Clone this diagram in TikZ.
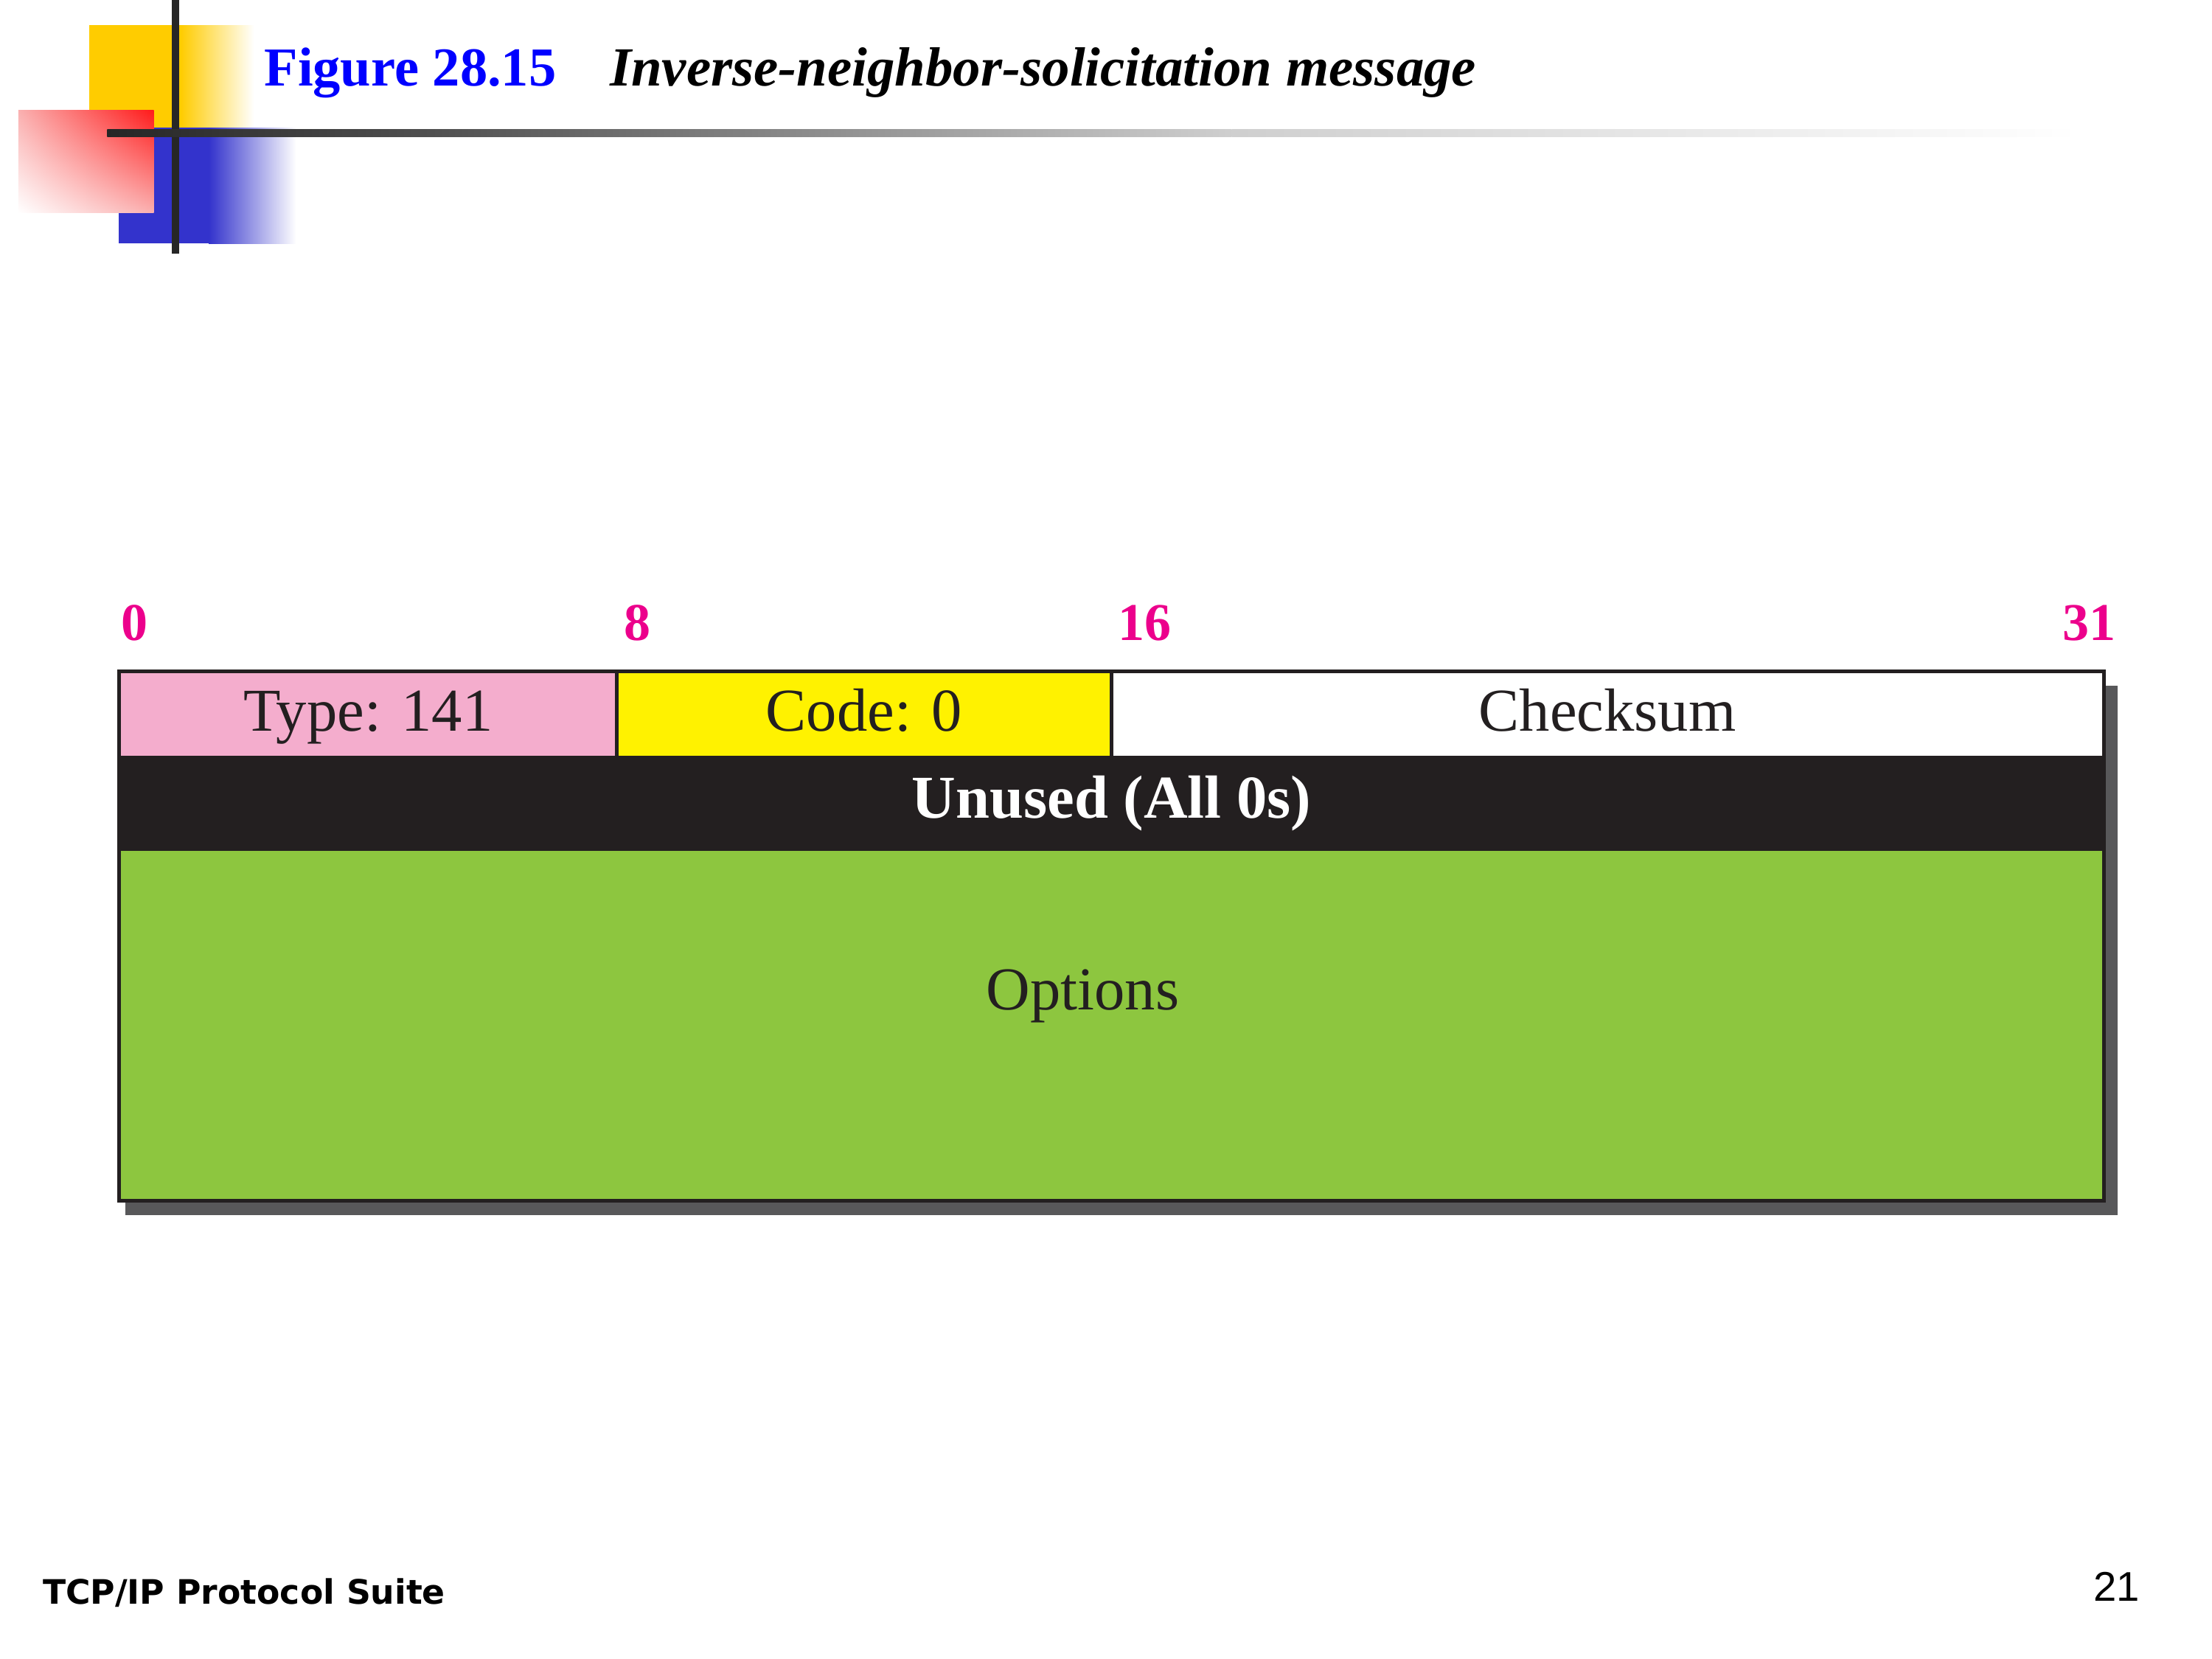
\documentclass[tikz,border=0pt]{standalone}
\usepackage{fontspec}
\setmainfont{Liberation Serif}
\newfontfamily\suitefont{DejaVu Sans}
\newfontfamily\pagefont{Liberation Sans}
\usetikzlibrary{positioning,shadings}
\definecolor{logoyellow}{HTML}{FFCC00}
\definecolor{logoblue}{HTML}{3333CC}
\definecolor{logored}{HTML}{FF1A1A}
\definecolor{logopink}{HTML}{FAB0B0}
\definecolor{logoline}{HTML}{262626}
\definecolor{titleblue}{HTML}{0000FF}
\definecolor{bitmagenta}{HTML}{EC008C}
\definecolor{fieldline}{HTML}{231F20}
\definecolor{typepink}{HTML}{F4ADCD}
\definecolor{codeyellow}{HTML}{FFF200}
\definecolor{optgreen}{HTML}{8DC63F}
\definecolor{shadowgray}{HTML}{58585A}
\tikzset{
  field/.style={font=\fontsize{23.5}{26}\selectfont, text=fieldline, inner sep=0pt, anchor=base},
  bitnum/.style={font=\bfseries\fontsize{20.5}{22}\selectfont, text=bitmagenta, inner sep=0pt, anchor=base west},
  cell/.style={draw=fieldline, line width=1.4pt}
}

\begin{document}
\begin{tikzpicture}[x=0.019133cm, y=-0.019133cm]
\useasboundingbox (0,0) rectangle (1568,1176);
% logo in the corner
\fill[logoyellow] (63,18) rectangle (128,90.6);
\shade[left color=logoyellow, right color=white] (128,18) rectangle (180,90.6);
\fill[logoblue] (84,90.6) rectangle (148,172.5);
\shade[left color=logoblue, right color=white] (148,90.6) rectangle (210,172.5);
\shade[upper left=logopink, upper right=logored, lower left=white, lower right=logopink] (13,78) rectangle (109,151);
\fill[logoline] (122,0) rectangle (127,180);
\shade[left color=logoline, right color=black!68] (76,91.5) rectangle (314,97);
\shade[left color=black!68, right color=black!19] (314,91.5) rectangle (873,97);
\shade[left color=black!19, right color=white] (873,91.5) rectangle (1473,97);
% title
\node[inner sep=0pt, anchor=base west, font=\bfseries\fontsize{21.2}{24}\selectfont, text=titleblue] (fig) at (187,61) {Figure 28.15};
\node[inner sep=0pt, anchor=base west, font=\bfseries\itshape\fontsize{21.3}{24}\selectfont] (caption) at (432,61) {Inverse-neighbor-solicitation message};
% bit numbers
\foreach \n/\x in {0/85.6,8/442,16/792}
{
  \node[bitnum] (b\n) at (\x,453.7) {\n};
}
\node[bitnum, anchor=base east] (b31) at (1500,453.7) {31};
% message
\fill[shadowgray] (89,486) rectangle (1501,861.5);
\filldraw[cell, fill=typepink] (84.5,476) rectangle (437,537);
\filldraw[cell, fill=codeyellow] (437,476) rectangle (788,537);
\filldraw[cell, fill=white] (788,476) rectangle (1491.5,537);
\filldraw[cell, fill=fieldline] (84.5,537) rectangle (1491.5,602);
\filldraw[cell, fill=optgreen] (84.5,602) rectangle (1491.5,851);
\node[field] (type) at (261,518) {Type: 141};
\node[field] (code) at (612.5,518) {Code: 0};
\node[field] (checksum) at (1139.5,518) {Checksum};
\node[field, text=white, font=\bfseries\fontsize{23.5}{26}\selectfont] (unused) at (788,580) {Unused (All 0s)};
\node[field] (options) at (767.6,716) {Options};
% footer
\node[inner sep=0pt, anchor=base west, font=\suitefont\bfseries\fontsize{13}{16}\selectfont] (suite) at (30,1137) {TCP/IP Protocol Suite};
\node[inner sep=0pt, anchor=base east, font=\pagefont\fontsize{16}{18}\selectfont] (page) at (1517,1135) {21};
\end{tikzpicture}
\end{document}
